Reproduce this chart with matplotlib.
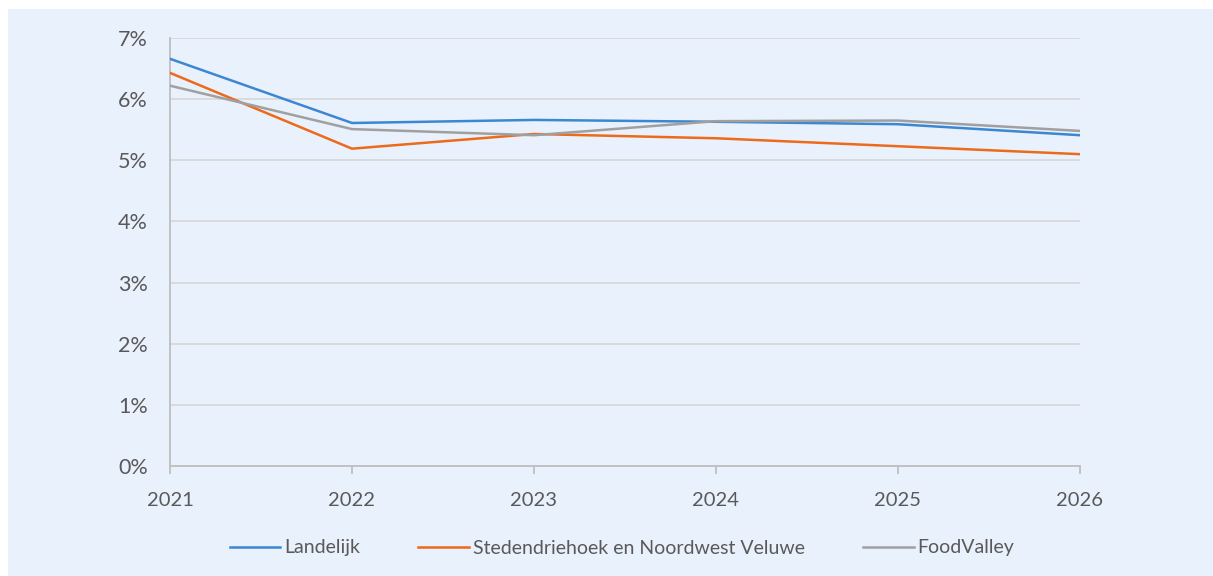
import matplotlib.pyplot as plt
from matplotlib.patches import Rectangle
from matplotlib.ticker import FuncFormatter

years = [2021, 2022, 2023, 2024, 2025, 2026]
landelijk = [6.66, 5.61, 5.66, 5.63, 5.59, 5.41]
stedendriehoek = [6.43, 5.19, 5.43, 5.36, 5.23, 5.10]
foodvalley = [6.22, 5.51, 5.41, 5.64, 5.65, 5.48]

labels = ['Landelijk', 'Stedendriehoek en Noordwest Veluwe', 'FoodValley']
colors = ['#3C87D1', '#EC6A1A', '#A0A0A0']

plt.rcParams['font.family'] = ['Lato', 'DejaVu Sans']

fig = plt.figure(figsize=(12.13, 5.76), dpi=100)
fig.patch.set_facecolor('white')
# light blue panel behind the chart
fig.patches.append(Rectangle((8 / 1213, 0), 1, 1 - 9 / 576, transform=fig.transFigure,
                             facecolor='#E9F1FD', edgecolor='none', lw=0, zorder=-10))

ax = fig.add_axes([170 / 1213, 1 - 466 / 576, 910 / 1213, 428 / 576])
ax.set_facecolor('none')
ax.set_zorder(5)

for vals, lab, c in zip([landelijk, stedendriehoek, foodvalley], labels, colors):
    ax.plot(years, vals, color=c, lw=1.8, label=lab, zorder=3)

ax.set_xlim(2021, 2026)
ax.set_ylim(0, 7)
ax.set_yticks(range(0, 8))
ax.yaxis.set_major_formatter(FuncFormatter(lambda v, p: '%d%%' % v))
ax.grid(axis='y', color='#D9D9D9', lw=1.3)
ax.set_axisbelow(True)

for s in ['top', 'right']:
    ax.spines[s].set_visible(False)
for s in ['left', 'bottom']:
    ax.spines[s].set_color('#BFBFBF')
    ax.spines[s].set_linewidth(1.3)

ax.tick_params(axis='y', length=0, pad=16, labelsize=15.5, labelcolor='#595959')
ax.tick_params(axis='x', length=6, width=1.3, color='#BFBFBF', pad=13,
               labelsize=14.5, labelcolor='#595959')

ax.legend(loc='center', bbox_to_anchor=(622 / 1213, 1 - 548 / 576), bbox_transform=fig.transFigure,
          ncol=3, frameon=False, fontsize=14, labelcolor='#595959', handlelength=2.6,
          handletextpad=0.2, columnspacing=3.0)

plt.savefig('out.png', dpi=100)
